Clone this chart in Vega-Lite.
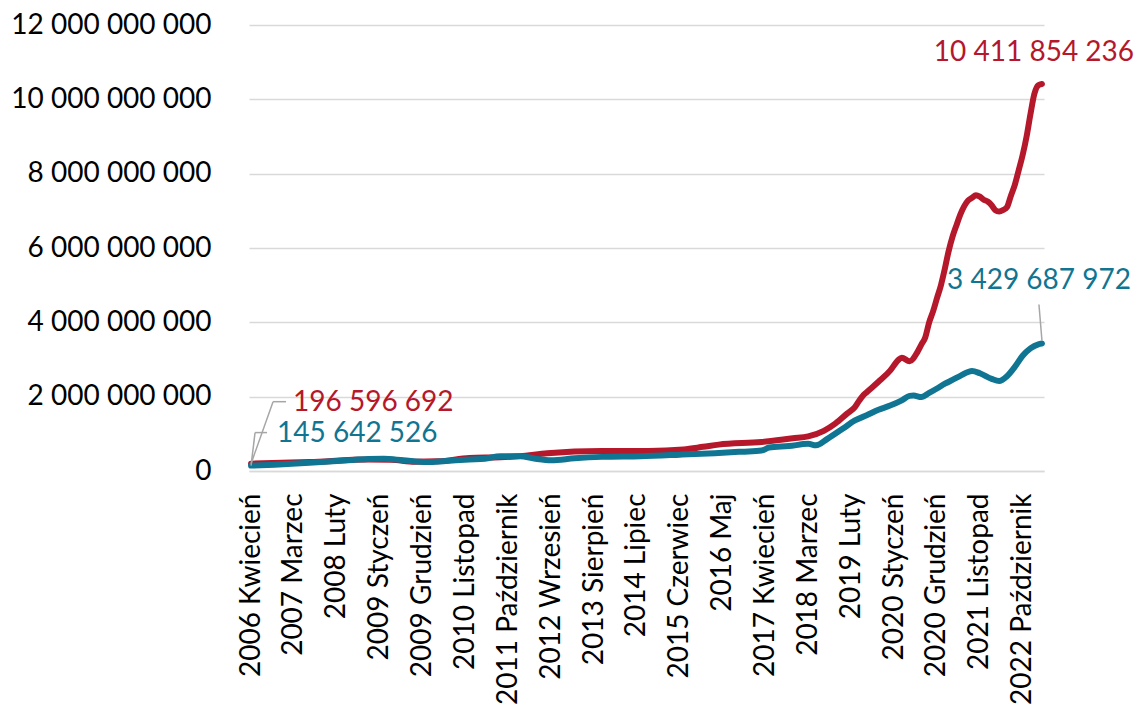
{
  "$schema": "https://vega.github.io/schema/vega-lite/v6.json",
  "width": 795,
  "height": 446,
  "autosize": {"type": "none"},
  "padding": {"left": 249, "top": 25, "right": 93, "bottom": 238},
  "background": "white",
  "config": {
    "view": {"stroke": null},
    "font": "Lato",
    "locale": {"number": {"decimal": ",", "thousands": " ", "grouping": [3], "currency": ["", ""]}}
  },
  "data": {"values": [
    {"s": "teal", "d": "2006-04-01", "v": 145642526},
    {"s": "teal", "d": "2006-10-01", "v": 170000000},
    {"s": "teal", "d": "2007-07-01", "v": 220000000},
    {"s": "teal", "d": "2008-04-01", "v": 280000000},
    {"s": "teal", "d": "2008-10-01", "v": 320000000},
    {"s": "teal", "d": "2009-02-01", "v": 330000000},
    {"s": "teal", "d": "2009-07-01", "v": 290000000},
    {"s": "teal", "d": "2010-01-01", "v": 240000000},
    {"s": "teal", "d": "2010-06-01", "v": 270000000},
    {"s": "teal", "d": "2010-12-01", "v": 310000000},
    {"s": "teal", "d": "2011-04-01", "v": 330000000},
    {"s": "teal", "d": "2011-08-01", "v": 400000000},
    {"s": "teal", "d": "2012-01-01", "v": 400000000},
    {"s": "teal", "d": "2012-05-01", "v": 330000000},
    {"s": "teal", "d": "2012-09-01", "v": 290000000},
    {"s": "teal", "d": "2013-03-01", "v": 340000000},
    {"s": "teal", "d": "2013-10-01", "v": 380000000},
    {"s": "teal", "d": "2014-08-01", "v": 400000000},
    {"s": "teal", "d": "2015-06-01", "v": 440000000},
    {"s": "teal", "d": "2016-03-01", "v": 480000000},
    {"s": "teal", "d": "2016-10-01", "v": 520000000},
    {"s": "teal", "d": "2017-03-01", "v": 550000000},
    {"s": "teal", "d": "2017-05-01", "v": 630000000},
    {"s": "teal", "d": "2017-10-01", "v": 670000000},
    {"s": "teal", "d": "2018-03-01", "v": 730000000},
    {"s": "teal", "d": "2018-05-01", "v": 690000000},
    {"s": "teal", "d": "2018-08-01", "v": 870000000},
    {"s": "teal", "d": "2018-12-01", "v": 1150000000},
    {"s": "teal", "d": "2019-03-01", "v": 1360000000},
    {"s": "teal", "d": "2019-06-01", "v": 1500000000},
    {"s": "teal", "d": "2019-09-01", "v": 1650000000},
    {"s": "teal", "d": "2019-12-01", "v": 1760000000},
    {"s": "teal", "d": "2020-03-01", "v": 1900000000},
    {"s": "teal", "d": "2020-05-01", "v": 2020000000},
    {"s": "teal", "d": "2020-06-01", "v": 2030000000},
    {"s": "teal", "d": "2020-08-01", "v": 1990000000},
    {"s": "teal", "d": "2020-10-01", "v": 2100000000},
    {"s": "teal", "d": "2020-12-01", "v": 2220000000},
    {"s": "teal", "d": "2021-02-01", "v": 2350000000},
    {"s": "teal", "d": "2021-04-01", "v": 2450000000},
    {"s": "teal", "d": "2021-06-01", "v": 2560000000},
    {"s": "teal", "d": "2021-09-01", "v": 2690000000},
    {"s": "teal", "d": "2021-11-01", "v": 2630000000},
    {"s": "teal", "d": "2022-02-01", "v": 2480000000},
    {"s": "teal", "d": "2022-04-01", "v": 2420000000},
    {"s": "teal", "d": "2022-06-01", "v": 2550000000},
    {"s": "teal", "d": "2022-08-01", "v": 2800000000},
    {"s": "teal", "d": "2022-10-01", "v": 3100000000},
    {"s": "teal", "d": "2022-12-01", "v": 3300000000},
    {"s": "teal", "d": "2023-02-01", "v": 3410000000},
    {"s": "teal", "d": "2023-03-01", "v": 3429687972},
    {"s": "red", "d": "2006-04-01", "v": 196596692},
    {"s": "red", "d": "2007-07-01", "v": 240000000},
    {"s": "red", "d": "2008-10-01", "v": 310000000},
    {"s": "red", "d": "2009-04-01", "v": 300000000},
    {"s": "red", "d": "2009-10-01", "v": 250000000},
    {"s": "red", "d": "2010-04-01", "v": 260000000},
    {"s": "red", "d": "2010-12-01", "v": 350000000},
    {"s": "red", "d": "2011-08-01", "v": 370000000},
    {"s": "red", "d": "2012-01-01", "v": 400000000},
    {"s": "red", "d": "2012-08-01", "v": 480000000},
    {"s": "red", "d": "2013-10-01", "v": 540000000},
    {"s": "red", "d": "2014-10-01", "v": 540000000},
    {"s": "red", "d": "2015-07-01", "v": 580000000},
    {"s": "red", "d": "2015-12-01", "v": 650000000},
    {"s": "red", "d": "2016-04-01", "v": 710000000},
    {"s": "red", "d": "2017-03-01", "v": 780000000},
    {"s": "red", "d": "2017-11-01", "v": 880000000},
    {"s": "red", "d": "2018-03-01", "v": 930000000},
    {"s": "red", "d": "2018-07-01", "v": 1080000000},
    {"s": "red", "d": "2018-10-01", "v": 1280000000},
    {"s": "red", "d": "2019-01-01", "v": 1550000000},
    {"s": "red", "d": "2019-03-01", "v": 1720000000},
    {"s": "red", "d": "2019-04-01", "v": 1880000000},
    {"s": "red", "d": "2019-05-01", "v": 2020000000},
    {"s": "red", "d": "2019-06-01", "v": 2120000000},
    {"s": "red", "d": "2019-09-01", "v": 2400000000},
    {"s": "red", "d": "2019-12-01", "v": 2700000000},
    {"s": "red", "d": "2020-02-01", "v": 2980000000},
    {"s": "red", "d": "2020-03-01", "v": 3050000000},
    {"s": "red", "d": "2020-05-01", "v": 2950000000},
    {"s": "red", "d": "2020-07-01", "v": 3200000000},
    {"s": "red", "d": "2020-08-01", "v": 3400000000},
    {"s": "red", "d": "2020-09-01", "v": 3600000000},
    {"s": "red", "d": "2020-10-01", "v": 4000000000},
    {"s": "red", "d": "2020-11-01", "v": 4300000000},
    {"s": "red", "d": "2020-12-01", "v": 4650000000},
    {"s": "red", "d": "2021-01-01", "v": 5000000000},
    {"s": "red", "d": "2021-02-01", "v": 5450000000},
    {"s": "red", "d": "2021-03-01", "v": 5900000000},
    {"s": "red", "d": "2021-04-01", "v": 6300000000},
    {"s": "red", "d": "2021-05-01", "v": 6600000000},
    {"s": "red", "d": "2021-06-01", "v": 6900000000},
    {"s": "red", "d": "2021-07-01", "v": 7120000000},
    {"s": "red", "d": "2021-08-01", "v": 7280000000},
    {"s": "red", "d": "2021-09-01", "v": 7350000000},
    {"s": "red", "d": "2021-10-01", "v": 7420000000},
    {"s": "red", "d": "2021-11-01", "v": 7380000000},
    {"s": "red", "d": "2021-12-01", "v": 7300000000},
    {"s": "red", "d": "2022-01-01", "v": 7250000000},
    {"s": "red", "d": "2022-02-01", "v": 7150000000},
    {"s": "red", "d": "2022-03-01", "v": 7020000000},
    {"s": "red", "d": "2022-04-01", "v": 6980000000},
    {"s": "red", "d": "2022-05-01", "v": 7020000000},
    {"s": "red", "d": "2022-06-01", "v": 7100000000},
    {"s": "red", "d": "2022-07-01", "v": 7400000000},
    {"s": "red", "d": "2022-08-01", "v": 7700000000},
    {"s": "red", "d": "2022-09-01", "v": 8100000000},
    {"s": "red", "d": "2022-10-01", "v": 8500000000},
    {"s": "red", "d": "2022-11-01", "v": 9000000000},
    {"s": "red", "d": "2022-12-01", "v": 9600000000},
    {"s": "red", "d": "2023-01-01", "v": 10150000000},
    {"s": "red", "d": "2023-02-01", "v": 10380000000},
    {"s": "red", "d": "2023-03-01", "v": 10411854236}
  ]},
  "encoding": {
    "x": {
      "field": "d", "type": "temporal",
      "scale": {"type": "utc", "domain": [{"year": 2006, "month": 3, "date": 16, "utc": true}, {"year": 2023, "month": 3, "date": 17, "utc": true}]},
      "axis": {
        "title": null,
        "values": [
          {"year": 2006, "month": 4, "date": 1, "utc": true},
          {"year": 2007, "month": 3, "date": 1, "utc": true},
          {"year": 2008, "month": 2, "date": 1, "utc": true},
          {"year": 2009, "month": 1, "date": 1, "utc": true},
          {"year": 2009, "month": 12, "date": 1, "utc": true},
          {"year": 2010, "month": 11, "date": 1, "utc": true},
          {"year": 2011, "month": 10, "date": 1, "utc": true},
          {"year": 2012, "month": 9, "date": 1, "utc": true},
          {"year": 2013, "month": 8, "date": 1, "utc": true},
          {"year": 2014, "month": 7, "date": 1, "utc": true},
          {"year": 2015, "month": 6, "date": 1, "utc": true},
          {"year": 2016, "month": 5, "date": 1, "utc": true},
          {"year": 2017, "month": 4, "date": 1, "utc": true},
          {"year": 2018, "month": 3, "date": 1, "utc": true},
          {"year": 2019, "month": 2, "date": 1, "utc": true},
          {"year": 2020, "month": 1, "date": 1, "utc": true},
          {"year": 2020, "month": 12, "date": 1, "utc": true},
          {"year": 2021, "month": 11, "date": 1, "utc": true},
          {"year": 2022, "month": 10, "date": 1, "utc": true}
        ],
        "labelExpr": "utcFormat(datum.value, '%Y') + ' ' + ['Styczeń','Luty','Marzec','Kwiecień','Maj','Czerwiec','Lipiec','Sierpień','Wrzesień','Październik','Listopad','Grudzień'][utcmonth(datum.value)]",
        "labelAngle": -90,
        "labelAlign": "right",
        "labelBaseline": "middle",
        "labelPadding": 22,
        "labelFont": "Lato",
        "labelFontSize": 28,
        "labelColor": "#000000",
        "labelLimit": 0,
        "labelOverlap": false,
        "labelBound": false,
        "labelFlush": false,
        "ticks": false,
        "grid": false,
        "domainColor": "#d9d9d9",
        "domainWidth": 1.5
      }
    },
    "y": {
      "field": "v", "type": "quantitative",
      "scale": {"domain": [0, 12000000000], "nice": false},
      "axis": {
        "title": null,
        "values": [0, 2000000000, 4000000000, 6000000000, 8000000000, 10000000000, 12000000000],
        "format": ",d",
        "labelFont": "Lato",
        "labelFontSize": 28,
        "labelColor": "#000000",
        "labelLimit": 0,
        "labelPadding": 38,
        "ticks": false,
        "domain": false,
        "grid": true,
        "gridColor": "#d9d9d9",
        "gridWidth": 1.5
      }
    }
  },
  "layer": [
    {
      "transform": [{"filter": "datum.s == 'red'"}],
      "mark": {"type": "line", "color": "#b5172b", "strokeWidth": 6, "interpolate": "monotone", "strokeCap": "round", "strokeJoin": "round"}
    },
    {
      "transform": [{"filter": "datum.s == 'teal'"}],
      "mark": {"type": "line", "color": "#0f7592", "strokeWidth": 6, "interpolate": "monotone", "strokeCap": "round", "strokeJoin": "round"}
    },
    {
      "transform": [{"filter": "datum.s == 'red' && utcyear(datum.d) == 2006 && utcmonth(datum.d) == 3"}],
      "mark": {"type": "rule", "color": "#a6a6a6", "strokeWidth": 1.5, "x2Offset": 22, "y2Offset": -62},
      "encoding": {"x2": {"field": "d"}, "y2": {"field": "v"}}
    },
    {
      "transform": [{"filter": "datum.s == 'red' && utcyear(datum.d) == 2006 && utcmonth(datum.d) == 3"}],
      "mark": {"type": "rule", "color": "#a6a6a6", "strokeWidth": 1.5, "xOffset": 22, "yOffset": -62, "x2Offset": 35, "y2Offset": -62},
      "encoding": {"x2": {"field": "d"}, "y2": {"field": "v"}}
    },
    {
      "transform": [{"filter": "datum.s == 'teal' && utcyear(datum.d) == 2006 && utcmonth(datum.d) == 3"}],
      "mark": {"type": "rule", "color": "#a6a6a6", "strokeWidth": 1.5, "x2Offset": 4, "y2Offset": -33},
      "encoding": {"x2": {"field": "d"}, "y2": {"field": "v"}}
    },
    {
      "transform": [{"filter": "datum.s == 'teal' && utcyear(datum.d) == 2006 && utcmonth(datum.d) == 3"}],
      "mark": {"type": "rule", "color": "#a6a6a6", "strokeWidth": 1.5, "xOffset": 4, "yOffset": -33, "x2Offset": 16, "y2Offset": -33},
      "encoding": {"x2": {"field": "d"}, "y2": {"field": "v"}}
    },
    {
      "transform": [{"filter": "datum.s == 'teal' && utcyear(datum.d) == 2023 && utcmonth(datum.d) == 2"}],
      "mark": {"type": "rule", "color": "#a6a6a6", "strokeWidth": 1.5, "yOffset": -3, "x2Offset": -3, "y2Offset": -39},
      "encoding": {"x2": {"field": "d"}, "y2": {"field": "v"}}
    },
    {
      "transform": [{"filter": "datum.s == 'red' && utcyear(datum.d) == 2006 && utcmonth(datum.d) == 3"}],
      "mark": {"type": "text", "color": "#b5172b", "font": "Lato", "fontSize": 28, "align": "left", "baseline": "middle", "dx": 42, "dy": -61},
      "encoding": {"text": {"field": "v", "type": "quantitative", "format": ",d"}}
    },
    {
      "transform": [{"filter": "datum.s == 'teal' && utcyear(datum.d) == 2006 && utcmonth(datum.d) == 3"}],
      "mark": {"type": "text", "color": "#0f7592", "font": "Lato", "fontSize": 28, "align": "left", "baseline": "middle", "dx": 26, "dy": -32},
      "encoding": {"text": {"field": "v", "type": "quantitative", "format": ",d"}}
    },
    {
      "transform": [{"filter": "datum.s == 'red' && utcyear(datum.d) == 2023 && utcmonth(datum.d) == 2"}],
      "mark": {"type": "text", "color": "#b5172b", "font": "Lato", "fontSize": 28, "align": "center", "baseline": "middle", "dx": -8, "dy": -31},
      "encoding": {"text": {"field": "v", "type": "quantitative", "format": ",d"}}
    },
    {
      "transform": [{"filter": "datum.s == 'teal' && utcyear(datum.d) == 2023 && utcmonth(datum.d) == 2"}],
      "mark": {"type": "text", "color": "#0f7592", "font": "Lato", "fontSize": 28, "align": "center", "baseline": "middle", "dx": -3, "dy": -63},
      "encoding": {"text": {"field": "v", "type": "quantitative", "format": ",d"}}
    }
  ]
}
